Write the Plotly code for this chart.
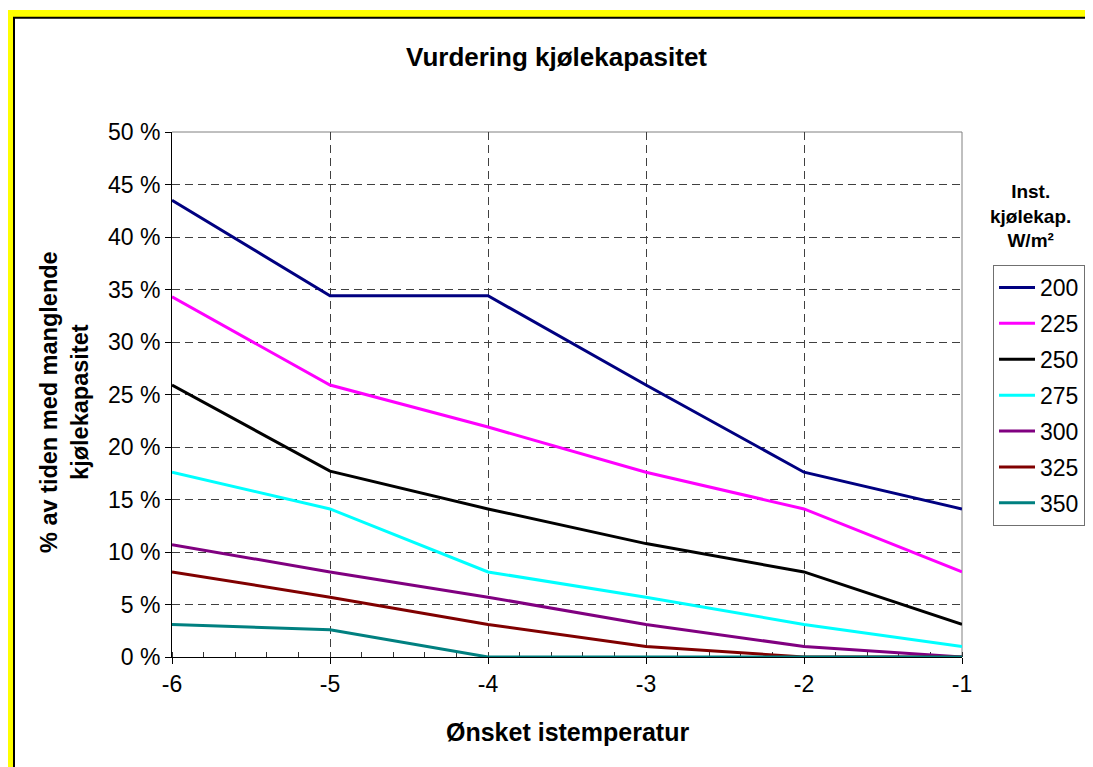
import plotly.graph_objects as go

# ---- data ----
temps = [-6, -5, -4, -3, -2, -1]
series_names = ["200", "225", "250", "275", "300", "325", "350"]
s200 = [43.5, 34.4, 34.4, 25.9, 17.6, 14.1]
s225 = [34.3, 25.9, 21.9, 17.6, 14.1, 8.1]
s250 = [25.9, 17.7, 14.1, 10.8, 8.1, 3.1]
s275 = [17.6, 14.1, 8.1, 5.7, 3.1, 1.0]
s300 = [10.7, 8.1, 5.7, 3.1, 1.0, 0.0]
s325 = [8.1, 5.7, 3.1, 1.0, 0.0, 0.0]
s350 = [3.1, 2.6, 0.0, 0.0, 0.0, 0.0]
series_values = [s200, s225, s250, s275, s300, s325, s350]
colors = ["#000080", "#FF00FF", "#000000", "#00FFFF", "#800080", "#800000", "#008080"]

y_tickvals = [0, 5, 10, 15, 20, 25, 30, 35, 40, 45, 50]
y_ticktext = ["0 %", "5 %", "10 %", "15 %", "20 %", "25 %", "30 %", "35 %", "40 %", "45 %", "50 %"]
x_tickvals = [-6, -5, -4, -3, -2, -1]
x_ticktext = ["-6", "-5", "-4", "-3", "-2", "-1"]

title_text = "Vurdering kjølekapasitet"
x_title = "Ønsket istemperatur"
y_title = "% av tiden med manglende<br>kjølekapasitet"
legend_title = "Inst.<br>kjølekap.<br>W/m²"

# ---- geometry (page has an 8px body margin) ----
OFF = 8
W, H = 1093 - OFF, 767 - OFF
# plot area in reference-screen pixels
RL, RR, RT, RB = 172, 962, 132, 657
L, R, T, B = RL - OFF, RR - OFF, RT - OFF, RB - OFF
PW, PH = R - L, B - T


def px(xs):
    """reference-screen x pixel -> paper coordinate"""
    return (xs - OFF - L) / PW


def py(ys):
    """reference-screen y pixel -> paper coordinate"""
    return (B - (ys - OFF)) / PH


FONT = "Liberation Sans, Arial, sans-serif"

fig = go.Figure()
for name, vals, col in zip(series_names, series_values, colors):
    fig.add_trace(go.Scatter(
        x=temps, y=vals, mode="lines", name=name, legendgroup=name,
        line=dict(color=col, width=3), hoverinfo="skip",
    ))

shapes = [
    # yellow frame
    dict(type="rect", xref="paper", yref="paper", x0=px(6), x1=px(1120), y0=py(800), y1=py(10),
         fillcolor="#FFFF00", line=dict(width=0), layer="below"),
    dict(type="rect", xref="paper", yref="paper", x0=px(14), x1=px(1130), y0=py(810), y1=py(17.8),
         fillcolor="#FFFFFF", line=dict(color="#000000", width=2), layer="below"),
    # plot area top and right border (gray)
    dict(type="line", xref="paper", yref="paper", x0=0, x1=1, y0=1, y1=1,
         line=dict(color="#808080", width=1), layer="below"),
    dict(type="line", xref="paper", yref="paper", x0=1, x1=1, y0=0, y1=1,
         line=dict(color="#808080", width=1), layer="below"),
]

annotations = [
    dict(text=f"<b>{title_text}</b>", xref="paper", yref="paper", x=px(556), y=py(57),
         xanchor="center", yanchor="middle", showarrow=False,
         font=dict(family=FONT, size=26, color="#000000")),
    dict(text=f"<b>{x_title}</b>", xref="paper", yref="paper", x=px(567), y=py(732),
         xanchor="center", yanchor="middle", showarrow=False,
         font=dict(family=FONT, size=25, color="#000000")),
    dict(text=f"<b>{y_title}</b>", xref="paper", yref="paper", x=px(64), y=py(402),
         xanchor="center", yanchor="middle", showarrow=False, textangle=-90,
         font=dict(family=FONT, size=23.5, color="#000000")),
    dict(text=f"<b>{legend_title}</b>", xref="paper", yref="paper", x=px(1030), y=py(216),
         xanchor="center", yanchor="middle", showarrow=False,
         font=dict(family=FONT, size=19, color="#000000")),
]

fig.update_layout(
    width=W, height=H,
    margin=dict(l=L, r=W - R, t=T, b=H - B, pad=0, autoexpand=False),
    paper_bgcolor="#FFFFFF",
    plot_bgcolor="rgba(0,0,0,0)",
    font=dict(family=FONT, size=23, color="#000000"),
    shapes=shapes,
    annotations=annotations,
    showlegend=True,
    legend=dict(
        x=px(993), y=py(265), xanchor="left", yanchor="top",
        bgcolor="#FFFFFF", bordercolor="#707070", borderwidth=1,
        font=dict(family=FONT, size=23, color="#000000"),
        traceorder="grouped", tracegroupgap=3, itemwidth=36,
    ),
    xaxis=dict(
        range=[-6, -1], tickvals=x_tickvals, ticktext=x_ticktext,
        showline=True, linecolor="#000000", linewidth=1,
        ticks="outside", ticklen=6, tickcolor="#000000",
        showgrid=True, gridcolor="#404040", gridwidth=1, griddash="8px,5px",
        minor=dict(ticks="inside", ticklen=5, dtick=0.2, tickcolor="#333333", showgrid=False),
        zeroline=False, layer="below traces",
        tickfont=dict(family=FONT, size=23),
    ),
    yaxis=dict(
        range=[0, 50], tickvals=y_tickvals, ticktext=y_ticktext,
        showline=True, linecolor="#000000", linewidth=1,
        ticks="outside", ticklen=6, tickcolor="#000000",
        showgrid=True, gridcolor="#404040", gridwidth=1, griddash="8px,5px",
        zeroline=False, layer="below traces",
        tickfont=dict(family=FONT, size=23),
    ),
)

fig.write_html("out.html")
